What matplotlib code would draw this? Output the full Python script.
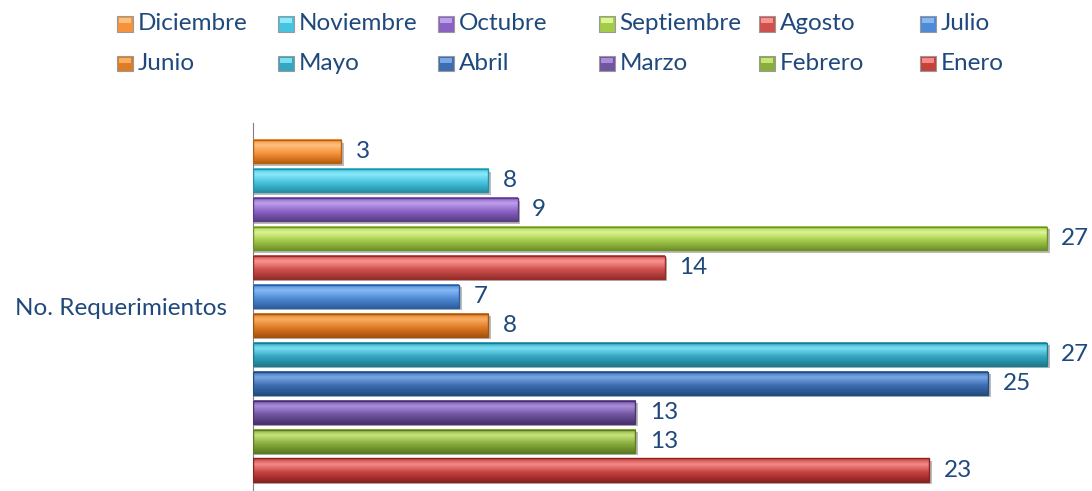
import matplotlib
matplotlib.use("Agg")
import matplotlib.pyplot as plt
from matplotlib.colors import LinearSegmentedColormap
from matplotlib.patches import Rectangle
import numpy as np

# ---------- datos ----------
meses = ["Enero", "Febrero", "Marzo", "Abril", "Mayo", "Junio",
         "Julio", "Agosto", "Septiembre", "Octubre", "Noviembre", "Diciembre"]
valores = [23, 13, 13, 25, 27, 8, 7, 14, 27, 9, 8, 3]
categoria = "No. Requerimientos"

# colores (claro, medio, oscuro) por mes
colores = {
    "Enero":      ("#F58A88", "#C4413E", "#8A2220"),
    "Febrero":    ("#C6E47A", "#8AAE3E", "#5C7B22"),
    "Marzo":      ("#AD8DDB", "#7055A0", "#4B3170"),
    "Abril":      ("#78A8E6", "#3D6DB0", "#234C82"),
    "Mayo":       ("#7ADFF3", "#35A6C0", "#1E7A8F"),
    "Junio":      ("#F9AE62", "#E07B25", "#A5530D"),
    "Julio":      ("#86B9F4", "#4F8AD6", "#2D5F9D"),
    "Agosto":     ("#F99492", "#D0504D", "#952D2A"),
    "Septiembre": ("#DDF595", "#A4CB4A", "#6E922B"),
    "Octubre":    ("#BE9FEB", "#8A62C4", "#5A3D86"),
    "Noviembre":  ("#8BEAFB", "#46C3DE", "#2690A8"),
    "Diciembre":  ("#FCC07E", "#F7923A", "#B8600F"),
}
TEXTO = "#1F497D"
FUENTE = ["Lato", "DejaVu Sans"]
TAM = 17.5

plt.rcParams['font.family'] = FUENTE

fig = plt.figure(figsize=(10.92, 4.91), dpi=100)
ax = fig.add_axes([253 / 1092, 1 - 490 / 491, (1076 - 253) / 1092, (490 - 123) / 491])

alto = 0.8
grad = np.linspace(0, 1, 64).reshape(-1, 1)
for i, (mes, v) in enumerate(zip(meses, valores)):
    claro, medio, oscuro = colores[mes]
    cmap = LinearSegmentedColormap.from_list(
        mes, [(0, oscuro), (0.4, medio), (0.75, claro), (1, medio)])
    # sombra
    ax.barh(i - 0.08, v + 0.1, height=alto, color="#BBBBBB", zorder=1)
    ax.imshow(grad, cmap=cmap, aspect='auto', origin='lower',
              extent=(0, v, i - alto / 2, i + alto / 2), zorder=2,
              interpolation='bilinear')
    ax.barh(i, v, height=alto, facecolor='none', edgecolor=oscuro,
            linewidth=1.0, zorder=3)
    ax.text(v + 0.5, i, str(v), ha='left', va='center', fontsize=TAM,
            color=TEXTO, zorder=4)

ax.set_xlim(0, 28)
ax.set_ylim(-0.69, 12.0)
for s in ["top", "right", "bottom"]:
    ax.spines[s].set_visible(False)
ax.spines["left"].set_color("#808080")
ax.set_xticks([])
ax.set_yticks([(-0.69 + 12.0) / 2])
ax.set_yticklabels([categoria], fontsize=TAM, color=TEXTO)
ax.tick_params(axis='y', length=0, pad=18.5)

# ---------- leyenda (2 filas x 6 columnas) ----------
orden = ["Diciembre", "Noviembre", "Octubre", "Septiembre", "Agosto", "Julio",
         "Junio", "Mayo", "Abril", "Marzo", "Febrero", "Enero"]
for k, mes in enumerate(orden):
    fila, col = divmod(k, 6)
    x0 = (117 + col * 160.5) / 1092
    y0 = 1 - (24 + fila * 40) / 491
    claro, medio, oscuro = colores[mes]
    fig.patches.append(Rectangle((x0, y0 - 7.5 / 491), 16 / 1092, 15 / 491,
                                 transform=fig.transFigure, facecolor=medio,
                                 edgecolor="#999999", linewidth=0.8))
    fig.patches.append(Rectangle((x0 + 2 / 1092, y0 + 1 / 491), 12 / 1092, 5 / 491,
                                 transform=fig.transFigure, facecolor=claro,
                                 edgecolor='none'))
    fig.text(x0 + 21 / 1092, y0, mes, ha='left', va='center',
             fontsize=TAM, color=TEXTO)

fig.savefig("out.png", dpi=100)
